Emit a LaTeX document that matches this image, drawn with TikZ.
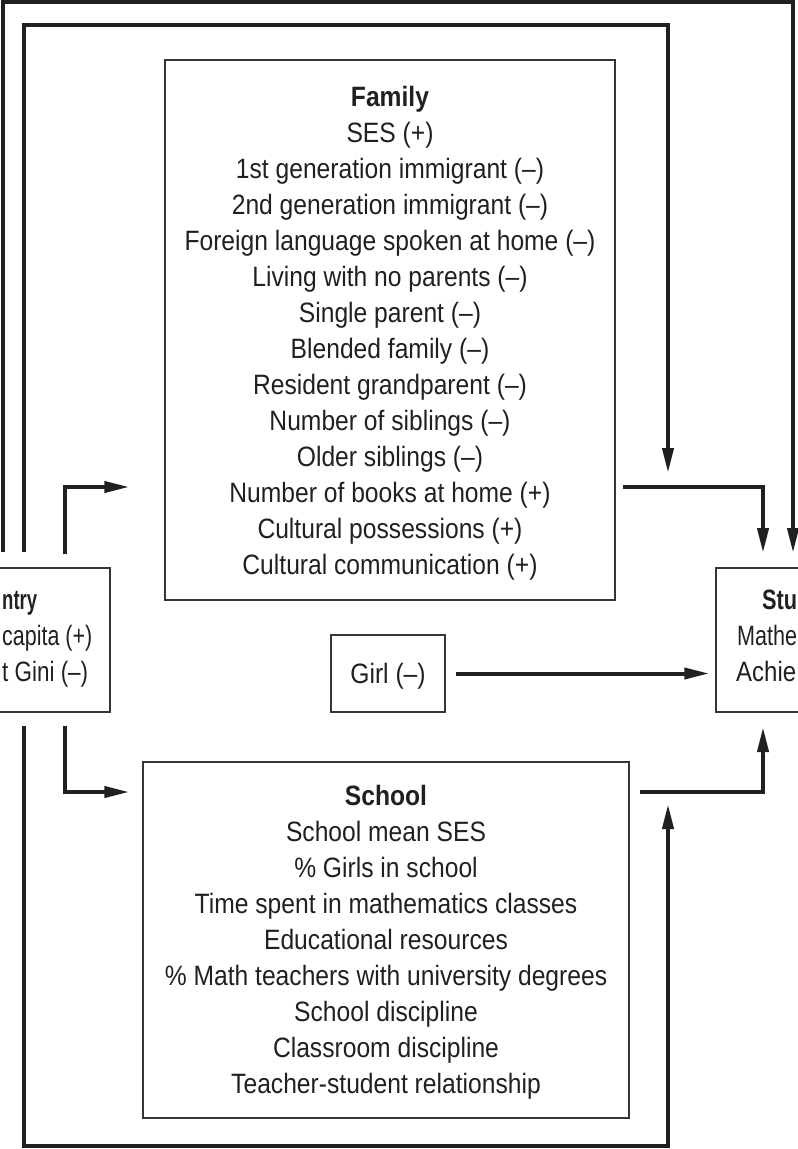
\documentclass[tikz,border=0pt]{standalone}
\usepackage{fontspec}
\setmainfont{Liberation Sans}[FakeStretch=0.88]
\usetikzlibrary{arrows.meta}
\definecolor{ink}{HTML}{231F20}
\newcommand{\fitto}[2]{\resizebox{#1pt}{\height}{#2}}
\begin{document}
\begin{tikzpicture}[x=1pt,y=-1pt,
  box/.style={draw=ink!90, line width=1.4pt, inner sep=0pt},
  txt/.style={inner sep=0pt, text=ink, font=\fontsize{28}{36}\selectfont, align=center},
  frag/.style={inner sep=0pt, text=ink, font=\fontsize{28}{36}\selectfont},
  conn/.style={line width=4pt, draw=ink, line join=miter,
    -{Triangle[length=25pt,width=11pt]}}]
\useasboundingbox (0,0) rectangle (798,1149);

% boxes
\node[box, minimum width=450pt, minimum height=540pt] (family) at (390,330) {};
\node[txt, yshift=-3pt] (famtxt) at (family.center) {%
  \textbf{Family}\\
  SES (+)\\
  1st generation immigrant (–)\\
  2nd generation immigrant (–)\\
  Foreign language spoken at home (–)\\
  Living with no parents (–)\\
  Single parent (–)\\
  Blended family (–)\\
  Resident grandparent (–)\\
  Number of siblings (–)\\
  Older siblings (–)\\
  Number of books at home (+)\\
  Cultural possessions (+)\\
  Cultural communication (+)};

\node[box, minimum width=486pt, minimum height=356pt] (school) at (386,940) {};
\node[txt, yshift=-2pt] (schtxt) at (school.center) {%
  \textbf{School}\\
  School mean SES\\
  \% Girls in school\\
  Time spent in mathematics classes\\
  Educational resources\\
  \% Math teachers with university degrees\\
  School discipline\\
  Classroom discipline\\
  Teacher-student relationship};

\node[box, minimum width=114pt, minimum height=77pt] (girl) at (388,673.5) {};
\node[txt, yshift=-3pt] (girltxt) at (girl.center) {Girl (–)};

\node[box, minimum width=244pt, minimum height=144pt] (country) at (-12,640) {};
\node[box, minimum width=244pt, minimum height=144pt] (student) at (838,640) {};

% visible parts of the side boxes' texts
\node[frag, anchor=base west] (c1) at (2,609) {\fitto{35}{\textbf{ntry}}};
\node[frag, anchor=base west] (c2) at (2,645) {\fitto{90}{capita (+)}};
\node[frag, anchor=base west] (c3) at (2,681) {\fitto{86}{t Gini (–)}};
\node[frag, anchor=base west] (s1) at (762,609) {\fitto{35}{\textbf{Stu}}};
\node[frag, anchor=base west] (s2) at (737,645) {\fitto{60}{Mathe}};
\node[frag, anchor=base west] (s3) at (736,681) {\fitto{60}{Achie}};

% connector ends
\coordinate (o1) at (3,552);
\coordinate (o2) at (24,552);
\coordinate (o3) at (65,554);
\coordinate (u3) at (65,726);
\coordinate (u2) at (24,726);
\coordinate (fs) at (623,487);
\coordinate (ss) at (640,792);
\coordinate (stA) at (763,568);
\coordinate (stB) at (763,712);
\coordinate (stC) at (793,568);

% connectors
\draw[conn, shorten >=15pt] (o1) -- (3,2) -- (793,2) -- (stC);
\draw[conn] (o2) -- (24,25) -- (668,25) -- (668,473);
\draw[conn] (u2) -- (24,1146) -- (668,1146) -- (668,804);
\draw[conn, shorten >=35pt] (o3) -- (65,487) -- (family.west |- fs);
\draw[conn, shorten >=13pt] (u3) -- (65,792) -- (school.west |- ss);
\draw[conn, shorten >=15pt] (fs) -- (fs -| stA) -- (stA);
\draw[conn, shorten >=15pt] (ss) -- (ss -| stB) -- (stB);
\draw[conn, shorten <=10pt, shorten >=6pt] (girl.east) -- (girl.east -| student.west);
\end{tikzpicture}
\end{document}
